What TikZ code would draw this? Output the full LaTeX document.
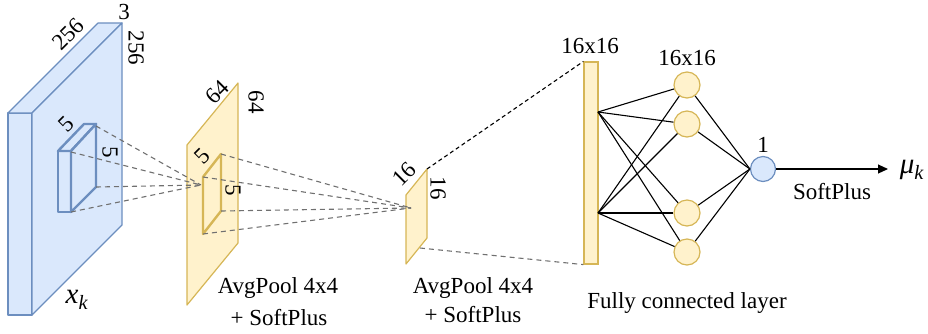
\documentclass[tikz,border=0pt]{standalone}
\usepackage{fontspec}
\setmainfont{Liberation Serif}
\usetikzlibrary{arrows.meta}
\definecolor{bfill}{HTML}{DAE8FC}
\definecolor{bline}{HTML}{6C8EBF}
\definecolor{yfill}{HTML}{FFF2CC}
\definecolor{yline}{HTML}{D6B656}
\definecolor{dgray}{HTML}{707070}
\begin{document}
\begin{tikzpicture}[x=1pt,y=-1pt,
  font=\fontsize{23}{27}\selectfont,
  bface/.style={fill=bfill,draw=bline,line width=1.2pt,line join=round},
  bthick/.style={fill=bfill,draw=bline,line width=2.4pt,line join=round},
  yface/.style={fill=yfill,draw=yline,line width=1.2pt,line join=round},
  ythick/.style={draw=yline,line width=2.4pt,line join=round},
  gdash/.style={draw=dgray,line width=1.1pt,dash pattern=on 5pt off 4pt},
  kdash/.style={draw=black,line width=1.1pt,dash pattern=on 4pt off 3pt},
  neuron/.style={circle,minimum size=26pt,inner sep=0pt,fill=yfill,draw=yline,line width=1.2pt},
  outn/.style={circle,minimum size=25pt,inner sep=0pt,fill=bfill,draw=bline,line width=1.2pt},
  conn/.style={draw=black,line width=1.1pt},
  lbl/.style={inner sep=0pt},
  mlbl/.style={inner sep=0pt,font=\fontsize{29}{31}\selectfont}]
\useasboundingbox (0,0) rectangle (928,333);

% big input volume
\draw[bface] (8,113) rectangle (32,315);
\draw[bface] (8,113) -- (98,23) -- (122,23) -- (32,113) -- cycle;
\draw[bface] (32,113) -- (122,23) -- (122,225) -- (32,315) -- cycle;
% small kernel box
\draw[bthick] (58,151) rectangle (71,212);
\draw[bthick] (58,151) -- (84,124) -- (96,124) -- (71,151) -- cycle;
\draw[bthick] (71,151) -- (96,124) -- (96,187) -- (71,212) -- cycle;
\coordinate (k1) at (96,126);
\coordinate (k2) at (71,152);
\coordinate (k3) at (96,187);
\coordinate (k4) at (71,212);
\coordinate (f1) at (201,185);

% first pooled map
\draw[yface] (187,145) -- (238,83) -- (238,243) -- (187,305) -- cycle;
\foreach \c in {k1,k2,k3,k4} \draw[gdash] (\c) -- (f1);
\draw[ythick] (203,177) -- (221,154) -- (221,211) -- (203,234) -- cycle;
\coordinate (m1) at (221,154);
\coordinate (m2) at (203,177);
\coordinate (m3) at (221,211);
\coordinate (m4) at (203,234);
\coordinate (f2) at (411,208);

% second pooled map
\draw[yface] (406,195) -- (427,169) -- (427,238) -- (406,264) -- cycle;
\foreach \c in {m1,m2,m3,m4} \draw[gdash] (\c) -- (f2);
\coordinate (s1) at (427,169);
\coordinate (s2) at (420,248);

% flattened vector
\node[draw=yline,fill=yfill,line width=1.2pt,minimum width=14pt,minimum height=202pt,inner sep=0pt] (vec) at (591,163) {};
\draw[kdash] (s1) -- (vec.north west);
\draw[gdash] (s2) -- (vec.south west);
\coordinate (v1) at (598,112);
\coordinate (v2) at (598,213);

% hidden neurons
\node[neuron] (h1) at (687,85) {};
\node[neuron] (h2) at (687,124) {};
\node[neuron] (h3) at (687,213) {};
\node[neuron] (h4) at (687,252) {};
\node[outn] (out) at (763,169) {};
\coordinate (mu) at (888,169);

\foreach \v in {v1,v2}
  \foreach \h in {h1,h2,h3,h4}
    \draw[conn] (\v) -- (\h);
\foreach \h in {h1,h2,h3,h4}
  \draw[conn] (\h) -- (out.west);
\draw[conn,-{Triangle[length=10pt,width=9pt]}] (out) -- (mu);

% labels
\node[lbl,rotate=45] at (68,34) {256};
\node[lbl] at (124,12) {3};
\node[lbl,rotate=-90] at (136,48) {256};
\node[mlbl] at (77,300) {\textit{x}\textsubscript{\textit{k}}};
\node[lbl,rotate=45] at (66,124) {5};
\node[lbl,rotate=-90] at (110,152) {5};
\node[lbl,rotate=45] at (217,92) {64};
\node[lbl,rotate=-90] at (256,102) {64};
\node[lbl,rotate=45] at (202,156) {5};
\node[lbl,rotate=-90] at (233,190) {5};
\node[lbl,rotate=45] at (404,174) {16};
\node[lbl,rotate=-90] at (438,188) {16};
\node[lbl] at (278,288) {AvgPool 4x4};
\node[lbl] at (279,318) {+ SoftPlus};
\node[lbl] at (473,288) {AvgPool 4x4};
\node[lbl] at (473,315) {+ SoftPlus};
\node[lbl] at (590,46) {16x16};
\node[lbl] at (687,58) {16x16};
\node[lbl] at (763,145) {1};
\node[lbl] at (832,192) {SoftPlus};
\node[mlbl] at (912,170) {\textit{μ}\textsubscript{\textit{k}}};
\node[lbl] at (687,303) {Fully connected layer};
\end{tikzpicture}
\end{document}
